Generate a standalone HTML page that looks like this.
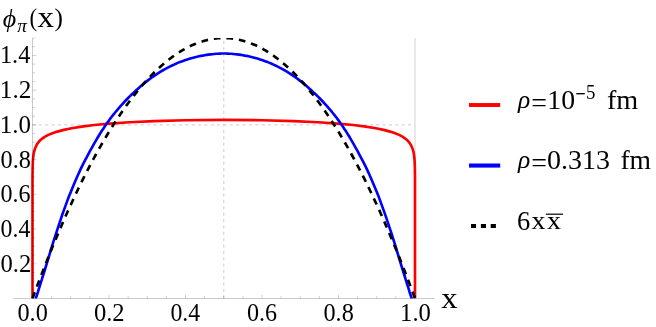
<!DOCTYPE html>
<html><head><meta charset="utf-8"><title>plot</title>
<style>
html,body{margin:0;padding:0;background:#fff;}
body{width:656px;height:327px;overflow:hidden;}
svg{display:block;font-family:"Liberation Serif",serif;font-kerning:none;}
</style></head><body>
<svg width="656" height="327" viewBox="0 0 656 327">
<rect width="656" height="327" fill="#fff"/>
<g fill="none">
<path d="M223.8 298.5V38" stroke="#cdcdcd" stroke-width="1" stroke-dasharray="3.2 3.164"/>
<path d="M32.5 124.9H415" stroke="#cdcdcd" stroke-width="1" stroke-dasharray="3.2 3.164"/>
<path d="M415 38V298.5" stroke="#d4d4d4" stroke-width="1"/>
<clipPath id="c"><rect x="0" y="38" width="656" height="260.5"/></clipPath>
<g clip-path="url(#c)" stroke-width="2.65" stroke-linejoin="round">
<path d="M32.5 298.5L32.5 247.8L32.5 247.3L32.5 246.7L32.5 246.1L32.5 245.6L32.5 245.0L32.5 244.4L32.5 243.8L32.5 243.2L32.5 242.6L32.5 242.0L32.5 241.4L32.5 240.8L32.5 240.1L32.5 239.5L32.5 238.8L32.5 238.2L32.5 237.5L32.5 236.9L32.5 236.2L32.5 235.5L32.5 234.8L32.5 234.1L32.5 233.4L32.5 232.7L32.5 232.0L32.5 231.3L32.5 230.5L32.5 229.8L32.5 229.0L32.5 228.3L32.5 227.5L32.5 226.7L32.5 226.0L32.5 225.2L32.5 224.4L32.5 223.5L32.5 222.7L32.5 221.9L32.5 221.1L32.5 220.2L32.5 219.4L32.5 218.5L32.5 217.6L32.5 216.7L32.5 215.8L32.5 214.9L32.5 214.0L32.5 213.1L32.5 212.2L32.5 211.2L32.5 210.3L32.5 209.3L32.5 208.3L32.5 207.4L32.5 206.4L32.5 205.4L32.5 204.3L32.5 203.3L32.5 202.3L32.5 201.2L32.5 200.2L32.5 199.1L32.5 198.0L32.5 196.9L32.5 195.8L32.5 194.7L32.5 193.5L32.5 192.4L32.5 191.2L32.5 190.1L32.5 188.9L32.5 187.7L32.5 186.5L32.5 185.2L32.5 184.0L32.5 182.7L32.5 181.5L32.5 180.2L32.5 178.9L32.5 177.6L32.5 176.3L32.5 174.9L32.6 173.6L32.6 172.2L32.6 170.9L32.6 169.5L32.6 168.1L32.7 166.6L32.7 165.2L32.8 163.7L32.8 162.3L32.9 160.8L33.0 159.3L33.2 157.8L33.3 156.2L33.5 154.7L33.8 153.1L34.1 151.5L34.6 149.9L35.1 148.3L35.8 146.7L36.6 145.0L37.6 143.4L38.9 141.7L40.5 140.0L42.6 138.3L45.1 136.6L48.4 134.9L52.4 133.2L57.4 131.6L63.8 129.9L71.7 128.2L81.7 126.6L94.2 125.0L109.8 123.6L129.5 122.2L154.1 121.1L185.0 120.2L223.8 119.9L262.5 120.2L293.4 121.1L318.0 122.2L337.7 123.6L353.3 125.0L365.8 126.6L375.8 128.2L383.7 129.9L390.1 131.6L395.1 133.2L399.1 134.9L402.4 136.6L404.9 138.3L407.0 140.0L408.6 141.7L409.9 143.4L410.9 145.0L411.7 146.7L412.4 148.3L412.9 149.9L413.4 151.5L413.7 153.1L414.0 154.7L414.2 156.2L414.3 157.8L414.5 159.3L414.6 160.8L414.7 162.3L414.7 163.7L414.8 165.2L414.8 166.6L414.9 168.1L414.9 169.5L414.9 170.9L414.9 172.2L414.9 173.6L415.0 174.9L415.0 176.3L415.0 177.6L415.0 178.9L415.0 180.2L415.0 181.5L415.0 182.7L415.0 184.0L415.0 185.2L415.0 186.5L415.0 187.7L415.0 188.9L415.0 190.1L415.0 191.2L415.0 192.4L415.0 193.5L415.0 194.7L415.0 195.8L415.0 196.9L415.0 198.0L415.0 199.1L415.0 200.2L415.0 201.2L415.0 202.3L415.0 203.3L415.0 204.3L415.0 205.4L415.0 206.4L415.0 207.4L415.0 208.3L415.0 209.3L415.0 210.3L415.0 211.2L415.0 212.2L415.0 213.1L415.0 214.0L415.0 214.9L415.0 215.8L415.0 216.7L415.0 217.6L415.0 218.5L415.0 219.4L415.0 220.2L415.0 221.1L415.0 221.9L415.0 222.7L415.0 223.5L415.0 224.4L415.0 225.2L415.0 226.0L415.0 226.7L415.0 227.5L415.0 228.3L415.0 229.0L415.0 229.8L415.0 230.5L415.0 231.3L415.0 232.0L415.0 232.7L415.0 233.4L415.0 234.1L415.0 234.8L415.0 235.5L415.0 236.2L415.0 236.9L415.0 237.5L415.0 238.2L415.0 238.8L415.0 239.5L415.0 240.1L415.0 240.8L415.0 241.4L415.0 242.0L415.0 242.6L415.0 243.2L415.0 243.8L415.0 244.4L415.0 245.0L415.0 245.6L415.0 246.1L415.0 246.7L415.0 247.3L415.0 247.8L415.0 298.5" stroke="#f00"/>
<path d="M34.0 304.1L34.8 301.7L35.6 299.3L36.3 296.9L37.1 294.5L37.9 292.1L38.6 289.6L39.4 287.2L40.1 284.8L40.9 282.4L41.7 279.9L42.4 277.5L43.2 275.0L44.0 272.5L45.9 266.3L47.8 260.0L49.7 253.8L51.6 247.5L53.5 241.4L55.5 235.3L57.4 229.4L59.3 223.6L61.2 217.9L63.1 212.4L65.0 207.1L66.9 201.9L68.8 196.8L70.8 192.0L72.7 187.2L74.6 182.7L76.5 178.3L78.4 174.0L80.3 169.9L82.2 165.9L84.1 162.1L86.1 158.4L88.0 154.8L89.9 151.2L91.8 147.8L93.7 144.4L95.6 141.1L97.5 137.8L99.4 134.7L101.3 131.6L103.3 128.7L105.2 125.8L107.1 123.1L109.0 120.4L110.9 117.8L112.8 115.4L114.7 113.0L116.7 110.7L118.6 108.4L120.5 106.2L122.4 104.1L124.3 102.0L126.2 100.0L128.1 98.0L130.0 96.1L131.9 94.2L133.9 92.4L135.8 90.6L137.7 88.9L139.6 87.2L141.5 85.5L143.4 83.9L145.3 82.4L147.2 80.9L149.2 79.4L151.1 78.0L153.0 76.7L154.9 75.4L156.8 74.1L158.7 72.9L160.6 71.7L162.6 70.5L164.5 69.4L166.4 68.4L168.3 67.4L170.2 66.4L172.1 65.5L174.0 64.6L175.9 63.7L177.8 62.9L179.8 62.1L181.7 61.4L183.6 60.7L185.5 60.0L187.4 59.4L189.3 58.8L191.2 58.2L193.2 57.7L195.1 57.2L197.0 56.8L198.9 56.3L200.8 55.9L202.7 55.6L204.6 55.2L206.5 54.9L208.5 54.6L210.4 54.4L212.3 54.2L214.2 54.0L216.1 53.8L218.0 53.7L219.9 53.6L221.8 53.5L223.8 53.5L225.7 53.5L227.6 53.6L229.5 53.7L231.4 53.8L233.3 54.0L235.2 54.2L237.1 54.4L239.1 54.6L241.0 54.9L242.9 55.2L244.8 55.6L246.7 55.9L248.6 56.3L250.5 56.8L252.4 57.2L254.3 57.7L256.3 58.2L258.2 58.8L260.1 59.4L262.0 60.0L263.9 60.7L265.8 61.4L267.7 62.1L269.6 62.9L271.6 63.7L273.5 64.6L275.4 65.5L277.3 66.4L279.2 67.4L281.1 68.4L283.0 69.4L285.0 70.5L286.9 71.7L288.8 72.9L290.7 74.1L292.6 75.4L294.5 76.7L296.4 78.0L298.3 79.4L300.2 80.9L302.2 82.4L304.1 83.9L306.0 85.5L307.9 87.2L309.8 88.9L311.7 90.6L313.6 92.4L315.6 94.2L317.5 96.1L319.4 98.0L321.3 100.0L323.2 102.0L325.1 104.1L327.0 106.2L328.9 108.4L330.9 110.7L332.8 113.0L334.7 115.4L336.6 117.8L338.5 120.4L340.4 123.1L342.3 125.8L344.2 128.7L346.2 131.6L348.1 134.7L350.0 137.8L351.9 141.1L353.8 144.4L355.7 147.8L357.6 151.2L359.5 154.8L361.4 158.4L363.4 162.1L365.3 165.9L367.2 169.9L369.1 174.0L371.0 178.3L372.9 182.7L374.8 187.2L376.8 192.0L378.7 196.8L380.6 201.9L382.5 207.1L384.4 212.4L386.3 217.9L388.2 223.6L390.1 229.4L392.1 235.3L394.0 241.4L395.9 247.5L397.8 253.8L399.7 260.0L401.6 266.3L403.5 272.5L404.3 275.0L405.1 277.5L405.8 279.9L406.6 282.4L407.3 284.8L408.1 287.2L408.9 289.6L409.6 292.1L410.4 294.5L411.2 296.9L411.9 299.3L412.7 301.7L413.5 304.1" stroke="#00f"/>
<path d="M32.5 298.5L34.4 293.3L36.3 288.2L38.2 283.1L40.1 278.1L42.1 273.1L44.0 268.2L45.9 263.3L47.8 258.5L49.7 253.7L51.6 249.0L53.5 244.4L55.5 239.8L57.4 235.2L59.3 230.7L61.2 226.2L63.1 221.8L65.0 217.5L66.9 213.2L68.8 208.9L70.8 204.8L72.7 200.6L74.6 196.5L76.5 192.5L78.4 188.5L80.3 184.6L82.2 180.7L84.1 176.9L86.1 173.1L88.0 169.4L89.9 165.7L91.8 162.1L93.7 158.5L95.6 155.0L97.5 151.5L99.4 148.1L101.3 144.8L103.3 141.5L105.2 138.2L107.1 135.0L109.0 131.8L110.9 128.7L112.8 125.7L114.7 122.7L116.7 119.8L118.6 116.9L120.5 114.0L122.4 111.2L124.3 108.5L126.2 105.8L128.1 103.2L130.0 100.6L131.9 98.1L133.9 95.6L135.8 93.2L137.7 90.8L139.6 88.5L141.5 86.2L143.4 84.0L145.3 81.9L147.2 79.8L149.2 77.7L151.1 75.7L153.0 73.7L154.9 71.8L156.8 70.0L158.7 68.2L160.6 66.5L162.6 64.8L164.5 63.1L166.4 61.5L168.3 60.0L170.2 58.5L172.1 57.1L174.0 55.7L175.9 54.4L177.8 53.1L179.8 51.9L181.7 50.7L183.6 49.6L185.5 48.5L187.4 47.5L189.3 46.5L191.2 45.6L193.2 44.8L195.1 44.0L197.0 43.2L198.9 42.5L200.8 41.8L202.7 41.3L204.6 40.7L206.5 40.2L208.5 39.8L210.4 39.4L212.3 39.0L214.2 38.8L216.1 38.5L218.0 38.3L219.9 38.2L221.8 38.1L223.8 38.1L225.7 38.1L227.6 38.2L229.5 38.3L231.4 38.5L233.3 38.8L235.2 39.0L237.1 39.4L239.1 39.8L241.0 40.2L242.9 40.7L244.8 41.3L246.7 41.8L248.6 42.5L250.5 43.2L252.4 44.0L254.3 44.8L256.3 45.6L258.2 46.5L260.1 47.5L262.0 48.5L263.9 49.6L265.8 50.7L267.7 51.9L269.6 53.1L271.6 54.4L273.5 55.7L275.4 57.1L277.3 58.5L279.2 60.0L281.1 61.5L283.0 63.1L285.0 64.8L286.9 66.5L288.8 68.2L290.7 70.0L292.6 71.8L294.5 73.7L296.4 75.7L298.3 77.7L300.2 79.8L302.2 81.9L304.1 84.0L306.0 86.2L307.9 88.5L309.8 90.8L311.7 93.2L313.6 95.6L315.6 98.1L317.5 100.6L319.4 103.2L321.3 105.8L323.2 108.5L325.1 111.2L327.0 114.0L328.9 116.9L330.9 119.8L332.8 122.7L334.7 125.7L336.6 128.7L338.5 131.8L340.4 135.0L342.3 138.2L344.2 141.5L346.2 144.8L348.1 148.1L350.0 151.5L351.9 155.0L353.8 158.5L355.7 162.1L357.6 165.7L359.5 169.4L361.4 173.1L363.4 176.9L365.3 180.7L367.2 184.6L369.1 188.5L371.0 192.5L372.9 196.5L374.8 200.6L376.8 204.8L378.7 208.9L380.6 213.2L382.5 217.5L384.4 221.8L386.3 226.2L388.2 230.7L390.1 235.2L392.1 239.8L394.0 244.4L395.9 249.0L397.8 253.7L399.7 258.5L401.6 263.3L403.5 268.2L405.4 273.1L407.3 278.1L409.3 283.1L411.2 288.2L413.1 293.3L415.0 298.5" stroke="#000" stroke-dasharray="6.7 5.92"/>
</g>
<path d="M13.2 298.5H434.4M32.5 38V299.0" stroke="#000" stroke-opacity="0.205" stroke-width="1"/>
<path d="M32.50 298.50v-3.8M51.62 298.50v-2.6M70.75 298.50v-2.6M89.88 298.50v-2.6M109.00 298.50v-3.8M128.12 298.50v-2.6M147.25 298.50v-2.6M166.38 298.50v-2.6M185.50 298.50v-3.8M204.62 298.50v-2.6M223.75 298.50v-2.6M242.88 298.50v-2.6M262.00 298.50v-3.8M281.12 298.50v-2.6M300.25 298.50v-2.6M319.38 298.50v-2.6M338.50 298.50v-3.8M357.63 298.50v-2.6M376.75 298.50v-2.6M395.88 298.50v-2.6M415.00 298.50v-3.8M32.50 289.82h2.6M32.50 281.14h2.6M32.50 272.46h2.6M32.50 263.78h3.8M32.50 255.10h2.6M32.50 246.42h2.6M32.50 237.74h2.6M32.50 229.06h3.8M32.50 220.38h2.6M32.50 211.70h2.6M32.50 203.02h2.6M32.50 194.34h3.8M32.50 185.66h2.6M32.50 176.98h2.6M32.50 168.30h2.6M32.50 159.62h3.8M32.50 150.94h2.6M32.50 142.26h2.6M32.50 133.58h2.6M32.50 124.90h3.8M32.50 116.22h2.6M32.50 107.54h2.6M32.50 98.86h2.6M32.50 90.18h3.8M32.50 81.50h2.6M32.50 72.82h2.6M32.50 64.14h2.6M32.50 55.46h3.8M32.50 46.78h2.6M32.50 38.10h2.6" stroke="#000" stroke-opacity="0.205" stroke-width="0.9"/>
<path d="M469 105H500.2" stroke="#f00" stroke-width="3.9"/>
<path d="M469 165.55H500.2" stroke="#00f" stroke-width="4.1"/>
<path d="M471 226h5.05M480.9 226h5.1M490.7 226h5.2" stroke="#000" stroke-width="4"/>
<path d="M545.9 214.2H563" stroke="#000" stroke-width="1.2"/>
</g>
<g opacity="0.999">
<text transform="matrix(1.0055 0 0 1.0000 17.43 320.86)" font-size="24.15" fill="#000">0.0</text>
<text transform="matrix(1.0204 0 0 1.0000 93.91 320.86)" font-size="24.15" fill="#000">0.2</text>
<text transform="matrix(0.9866 0 0 1.0000 170.44 320.86)" font-size="24.15" fill="#000">0.4</text>
<text transform="matrix(0.9985 0 0 1.0000 246.93 320.86)" font-size="24.15" fill="#000">0.6</text>
<text transform="matrix(1.0055 0 0 1.0000 323.43 320.86)" font-size="24.15" fill="#000">0.8</text>
<text transform="matrix(1.0206 0 0 1.0000 400.08 320.86)" font-size="24.15" fill="#000">1.0</text>
<text transform="matrix(1.0142 0 0 1.0000 0.51 271.69)" font-size="24.29" fill="#000">0.2</text>
<text transform="matrix(0.9807 0 0 1.0000 0.54 236.97)" font-size="24.29" fill="#000">0.4</text>
<text transform="matrix(0.9924 0 0 1.0000 0.53 202.25)" font-size="24.29" fill="#000">0.6</text>
<text transform="matrix(0.9994 0 0 1.0000 0.53 167.53)" font-size="24.29" fill="#000">0.8</text>
<text transform="matrix(1.0330 0 0 1.0000 -0.17 98.08)" font-size="24.40" fill="#000">1.2</text>
<text transform="matrix(0.9945 0 0 1.0000 -0.09 63.36)" font-size="24.47" fill="#000">1.4</text>
<text transform="matrix(1.0254 0 0 1.0000 -0.14 132.81)" font-size="24.29" fill="#000">1.0</text>
<text transform="matrix(1.1324 0 0 1.0000 441.16 308.15)" font-size="28.76" fill="#000">x</text>
<text transform="matrix(1.0033 0 0 1.0000 2.66 26.96)" font-size="25.81" font-style="italic" fill="#000">ϕ</text>
<text transform="matrix(1.0698 0 0 1.0000 17.25 31.57)" font-size="18.03" font-style="italic" fill="#000">π</text>
<text transform="matrix(0.8901 0 0 1.0000 29.44 26.26)" font-size="25.81" fill="#000">(</text>
<text transform="matrix(1.1298 0 0 1.0000 37.46 26.75)" font-size="29.19" fill="#000">x</text>
<text transform="matrix(0.9807 0 0 1.0000 54.53 26.26)" font-size="25.81" fill="#000">)</text>
<text transform="matrix(1.0529 0 0 1.0000 518.00 108.40)" font-size="24.19" font-style="italic" fill="#000">ρ</text>
<text transform="matrix(1.0271 0 0 1.0000 531.36 111.58)" font-size="27.20" fill="#000">=</text>
<text transform="matrix(1.0529 0 0 1.0000 518.00 168.40)" font-size="24.19" font-style="italic" fill="#000">ρ</text>
<text transform="matrix(1.0271 0 0 1.0000 531.36 171.58)" font-size="27.20" fill="#000">=</text>
<text transform="matrix(0.9927 0 0 1.0000 547.31 109.28)" font-size="28.01" fill="#000">10</text>
<text transform="matrix(0.6498 0 0 1.0000 575.39 103.43)" font-size="28.11" fill="#000">−</text>
<text transform="matrix(0.9219 0 0 1.0000 586.05 99.15)" font-size="20.46" fill="#000">5</text>
<text transform="matrix(1.0335 0 0 1.0000 606.88 108.95)" font-size="27.27" fill="#000">fm</text>
<text transform="matrix(1.0019 0 0 1.0000 547.08 169.25)" font-size="27.97" fill="#000">0.313</text>
<text transform="matrix(1.0129 0 0 1.0000 620.40 168.95)" font-size="27.27" fill="#000">fm</text>
<text transform="matrix(0.9353 0 0 1.0000 517.11 229.67)" font-size="28.28" fill="#000">6</text>
<text transform="matrix(1.0881 0 0 1.0000 531.40 229.15)" font-size="25.71" fill="#000">x</text>
<text transform="matrix(1.0881 0 0 1.0000 546.90 229.15)" font-size="25.71" fill="#000">x</text>
</g>
</svg>
</body></html>
